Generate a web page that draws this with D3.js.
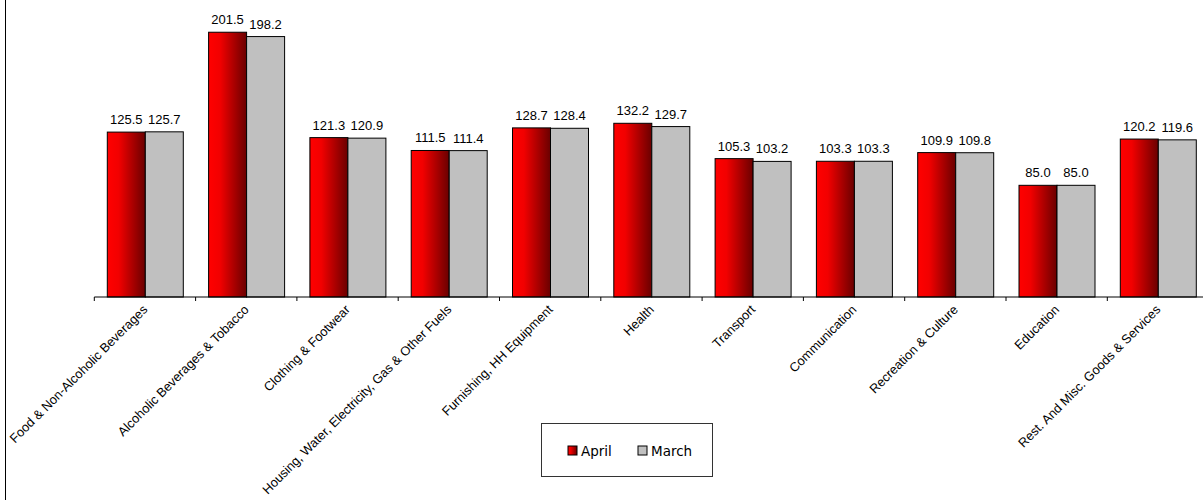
<!DOCTYPE html>
<html><head><meta charset="utf-8">
<script src="https://cdn.jsdelivr.net/npm/d3@7/dist/d3.min.js"></script>
<style>body{margin:0;background:#fff}svg{display:block}</style>
</head><body>
<script>
const categories = ["Food & Non-Alcoholic Beverages","Alcoholic Beverages & Tobacco","Clothing & Footwear","Housing, Water, Electricity, Gas & Other Fuels","Furnishing, HH Equipment","Health","Transport","Communication","Recreation & Culture","Education","Rest. And Misc. Goods & Services"];
const april = [125.5,201.5,121.3,111.5,128.7,132.2,105.3,103.3,109.9,85.0,120.2];
const march = [125.7,198.2,120.9,111.4,128.4,129.7,103.2,103.3,109.8,85.0,119.6];
const seriesNames = ["April","March"];

const W=1203,H=500;
const svg=d3.select("body").append("svg").attr("width",W).attr("height",H);
const defs=svg.append("defs");
const g1=defs.append("linearGradient").attr("id","redg").attr("x1","0").attr("x2","1").attr("y1","0").attr("y2","0");
g1.append("stop").attr("offset","0%").attr("stop-color","#ff0000");
g1.append("stop").attr("offset","30%").attr("stop-color","#f20000");
g1.append("stop").attr("offset","100%").attr("stop-color","#6a0000");

svg.append("line").attr("x1",5.5).attr("x2",5.5).attr("y1",0).attr("y2",H).attr("stroke","#000");

const x=d3.scaleBand().domain(categories).range([94.3,94.3+11*101.3]).padding(0);
const xs=d3.scaleBand().domain(seriesNames).range([13,89]).padding(0);
const y=d3.scaleLinear().domain([0,200]).range([297,297-262.8]);

const data=categories.map((c,i)=>({c,vals:[{s:"April",v:april[i]},{s:"March",v:march[i]}]}));
const fills={April:"url(#redg)",March:"#c0c0c0"};

const grp=svg.selectAll("g.cat").data(data).enter().append("g").attr("transform",d=>`translate(${x(d.c)},0)`);
grp.selectAll("rect").data(d=>d.vals).enter().append("rect")
  .attr("x",d=>xs(d.s)).attr("width",xs.bandwidth())
  .attr("y",d=>y(d.v)).attr("height",d=>y(0)-y(d.v))
  .attr("fill",d=>fills[d.s]).attr("stroke","#000").attr("stroke-width",1);
grp.selectAll("text").data(d=>d.vals).enter().append("text")
  .attr("x",d=>xs(d.s)+xs.bandwidth()/2).attr("y",d=>y(d.v)-8)
  .attr("text-anchor","middle").attr("font-family","Liberation Sans, Arial").attr("font-size",13)
  .text(d=>d.v.toFixed(1));

// axis
const ax=svg.append("g").attr("transform","translate(0,297)");
ax.append("line").attr("x1",x.range()[0]).attr("x2",x.range()[1]).attr("stroke","#000");
const ticks=categories.map(c=>x(c)).concat([x.range()[1]]);
ax.selectAll("line.t").data(ticks).enter().append("line").attr("class","t")
  .attr("x1",d=>d).attr("x2",d=>d).attr("y1",0).attr("y2",4).attr("stroke","#000");
ax.selectAll("text").data(categories).enter().append("text")
  .attr("transform",c=>`translate(${x(c)+x.bandwidth()/2-3},7) rotate(-45)`)
  .attr("text-anchor","end").attr("dy","0.7em")
  .attr("font-family","Liberation Sans, Arial").attr("font-size",12.8)
  .text(c=>c);

// legend
const lg=svg.append("g");
lg.append("rect").attr("x",541.5).attr("y",423.5).attr("width",171).attr("height",53).attr("fill","#fff").attr("stroke","#333");
const li=lg.selectAll("g").data(seriesNames).enter().append("g").attr("transform",(d,i)=>`translate(${i?638:568},446)`);
li.append("rect").attr("width",9).attr("height",9).attr("fill",d=>fills[d]).attr("stroke","#000");
li.append("text").attr("x",13).attr("y",9.5).attr("font-family","DejaVu Sans, Verdana").attr("font-size",13.5).text(d=>d);
</script>
</body></html>
